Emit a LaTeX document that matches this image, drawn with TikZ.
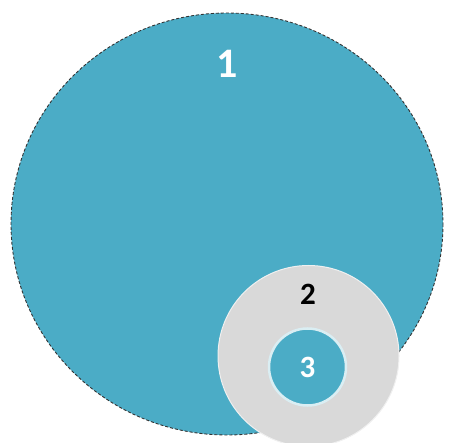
\documentclass[tikz,border=0pt]{standalone}
\usepackage{fontspec}
\setmainfont{Carlito}
\definecolor{cblue}{HTML}{4BACC6}
\definecolor{cgray}{HTML}{D9D9D9}
\definecolor{crim}{HTML}{DAEEF3}
\tikzset{
  lbl/.style={font=\bfseries\fontsize{#1}{#1}\selectfont, inner sep=0pt},
}
\begin{document}
\begin{tikzpicture}[x=1pt,y=-1pt]
\useasboundingbox (0,0) rectangle (449,443);
\begin{scope}
\clip (0,0) rectangle (449,443);
\draw[fill=cblue, draw=black!80, densely dashed, line width=0.9pt] (227,224) ellipse [x radius=216, y radius=211];
\node[circle, fill=cgray, draw=white!60!cgray, line width=1pt, minimum size=181pt, inner sep=0pt] (c2) at (308.5,356) {};
\node[circle, fill=cblue, draw=crim, line width=2.5pt, minimum size=77pt, inner sep=0pt] (c3) at (307.5,367) {};
\end{scope}
\node[lbl=42, text=white] (t1) at (227,64) {1};
\node[lbl=31, text=black] (t2) at (308,294) {2};
\node[lbl=31, text=white] (t3) at (c3) {3};
\end{tikzpicture}
\end{document}
